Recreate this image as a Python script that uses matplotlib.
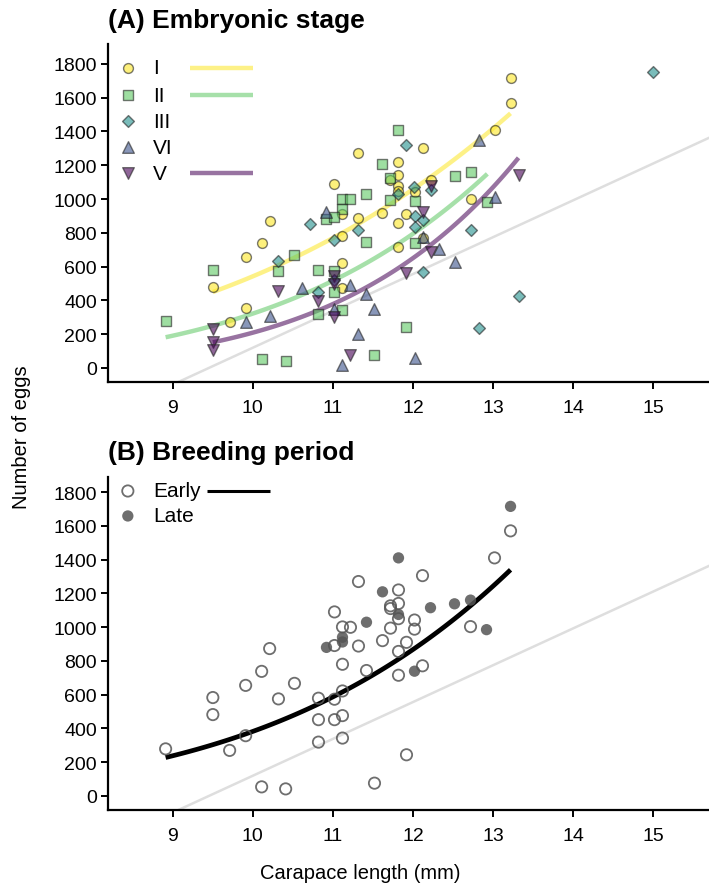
import matplotlib
matplotlib.use("Agg")
import matplotlib.pyplot as plt
import numpy as np

plt.rcParams['font.family'] = ['Liberation Sans', 'DejaVu Sans']

# ---- data: carapace length (mm), number of eggs, breeding period
stage_I_x = [13.22, 13.22, 13.02, 12.12, 11.32, 11.82, 11.82, 11.72, 12.22, 11.82, 11.82, 12.02, 11.02, 11.62, 11.32,
             11.12, 11.92, 11.82, 10.21, 11.12, 11.82, 12.72, 12.12, 10.11, 9.91, 11.12, 11.12, 9.50, 9.91, 9.71]
stage_I_y = [1715, 1570, 1410, 1305, 1270, 1220, 1140, 1110, 1115, 1075, 1050, 1042, 1090, 920, 888,
             912, 910, 856, 873, 780, 715, 1003, 771, 738, 655, 622, 476, 482, 357, 270]
stage_I_p = ['L', 'E', 'E', 'E', 'E', 'E', 'E', 'E', 'L', 'L', 'E', 'E', 'E', 'E', 'E',
             'L', 'E', 'E', 'E', 'E', 'E', 'E', 'E', 'E', 'E', 'E', 'E', 'E', 'E', 'E']

stage_II_x = [11.82, 11.62, 11.72, 12.52, 12.72, 12.92, 11.42, 11.12, 11.22, 11.72, 12.02, 11.12, 10.92, 11.02, 11.42,
              12.02, 10.82, 11.02, 10.52, 10.32, 9.50, 8.91, 11.02, 10.82, 11.12, 11.92, 11.52, 10.11, 10.41]
stage_II_y = [1410, 1209, 1126, 1138, 1160, 985, 1029, 1001, 999, 994, 988, 940, 880, 891, 743,
              739, 579, 573, 667, 575, 583, 279, 452, 319, 343, 244, 76, 54, 42]
stage_II_p = ['L', 'L', 'E', 'L', 'L', 'L', 'L', 'E', 'E', 'E', 'E', 'L', 'L', 'E', 'E',
              'L', 'E', 'E', 'E', 'E', 'E', 'E', 'E', 'E', 'E', 'E', 'E', 'E', 'E']

stage_III_x = [15.0, 11.92, 12.22, 12.01, 11.82, 12.02, 12.12, 12.02, 10.71, 11.32, 11.02, 10.32, 10.82, 12.72,
               12.12, 13.33, 12.83, 11.02]
stage_III_y = [1750, 1323, 1053, 1069, 1032, 900, 876, 833, 850, 819, 760, 635, 452, 818, 570, 424, 239, 518]
stage_III_p = ['', '', '', '', '', '', '', '', '', '', '', '', 'E', '', '', '', '', '']

stage_VI_x = [12.83, 13.02, 10.91, 11.22, 10.62, 11.02, 11.42, 11.52, 9.91, 10.21, 12.33, 12.52, 11.32, 11.12,
              12.02, 12.12]
stage_VI_y = [1350, 1010, 921, 489, 471, 352, 438, 349, 274, 305, 703, 625, 201, 18, 57, 775]
stage_VI_p = [''] * 16

stage_V_x = [12.22, 12.12, 13.32, 12.22, 11.92, 11.02, 11.02, 11.02, 10.82, 10.32, 9.50, 9.50, 9.50, 11.22]
stage_V_y = [1077, 924, 1143, 689, 565, 546, 497, 300, 396, 458, 231, 152, 107, 77]
stage_V_p = [''] * 14

stage_labels = ['I', 'II', 'III', 'VI', 'V']
stage_colors = ['#FDE725', '#5DC863', '#21908C', '#3B528B', '#440154']
stage_markers = ['o', 's', 'D', '^', 'v']

# power-law fits  log(eggs) = a + b*log(length), with fitted x range
fit_I = (-2.131, 3.66, 9.50, 13.22)
fit_II = (-5.623, 4.95, 8.91, 12.93)
fit_V = (-8.979, 6.22, 9.50, 13.32)
fit_all = (-4.392, 4.49, 8.91, 13.22)

# grey reference line  eggs = slope*length + intercept
ref_slope = 218.0
ref_intercept = -2060.0

xs_all = [stage_I_x, stage_II_x, stage_III_x, stage_VI_x, stage_V_x]
ys_all = [stage_I_y, stage_II_y, stage_III_y, stage_VI_y, stage_V_y]
ps_all = [stage_I_p, stage_II_p, stage_III_p, stage_VI_p, stage_V_p]
fits = [fit_I, fit_II, None, None, fit_V]

W, H = 709, 887
fig = plt.figure(figsize=(W / 100, H / 100), dpi=100)
ax1 = fig.add_axes([108 / W, 1 - 383 / H, 601 / W, 338 / H])
ax2 = fig.add_axes([108 / W, 1 - 811 / H, 601 / W, 333 / H])


def style_axes(ax, ylim):
    ax.set_xlim(8.19, 15.7)
    ax.set_ylim(*ylim)
    for s in ['top', 'right']:
        ax.spines[s].set_visible(False)
    for s in ['left', 'bottom']:
        ax.spines[s].set_linewidth(1.6)
    ax.set_xticks(range(9, 16))
    ax.set_yticks(range(0, 1801, 200))
    ax.tick_params(width=1.4, length=5, labelsize=14)
    ax.tick_params(axis='x', pad=7)
    ax.tick_params(axis='y', pad=3)


def power_curve(fit):
    a, b, x0, x1 = fit
    x = np.linspace(x0, x1, 100)
    return x, np.exp(a + b * np.log(x))


def ref_line(ax):
    x = np.array([8.0, 16.0])
    ax.plot(x, ref_slope * x + ref_intercept, color='#dedede', lw=1.8, zorder=1)


# ---- (A) embryonic stage
style_axes(ax1, (-83, 1918))
ref_line(ax1)
for xs, ys, col, mk, fit in zip(xs_all, ys_all, stage_colors, stage_markers, fits):
    if fit is not None:
        cx, cy = power_curve(fit)
        ax1.plot(cx, cy, color=col, lw=3.2, alpha=0.55, solid_capstyle='butt', zorder=2)
sizes = {'o': 50, 's': 42, 'D': 36, '^': 70, 'v': 70}
for xs, ys, col, mk in zip(xs_all, ys_all, stage_colors, stage_markers):
    ax1.scatter(xs, ys, s=sizes[mk], marker=mk, facecolor=col, edgecolor='#222222', linewidth=1.0,
                alpha=0.6, zorder=3)

# legend for (A), drawn in axes coordinates
tr = ax1.transAxes
row_y = [0.929, 0.849, 0.772, 0.695, 0.618]
for lab, col, mk, fit, yy in zip(stage_labels, stage_colors, stage_markers, fits, row_y):
    ax1.scatter([0.033], [yy], s=sizes[mk], marker=mk, facecolor=col, edgecolor='#222222', linewidth=1.0,
                alpha=0.6, transform=tr, clip_on=False, zorder=4)
    ax1.text(0.075, yy, lab, transform=tr, fontsize=15, va='center', ha='left')
    if fit is not None:
        ax1.plot([0.136, 0.241], [yy, yy], color=col, lw=3.2, alpha=0.55, transform=tr,
                 solid_capstyle='butt')

# ---- (B) breeding period
style_axes(ax2, (-83, 1889))
ref_line(ax2)
cx, cy = power_curve(fit_all)
ax2.plot(cx, cy, color='black', lw=3.4, zorder=2, solid_capstyle='butt')
early_x, early_y, late_x, late_y = [], [], [], []
for xs, ys, ps in zip(xs_all, ys_all, ps_all):
    for x, y, p in zip(xs, ys, ps):
        if p == 'E':
            early_x.append(x)
            early_y.append(y)
        elif p == 'L':
            late_x.append(x)
            late_y.append(y)
ax2.scatter(early_x, early_y, s=66, facecolor='none', edgecolor='#555555', linewidth=1.3, alpha=0.85, zorder=3)
ax2.scatter(late_x, late_y, s=66, facecolor='#555555', edgecolor='none', alpha=0.85, zorder=3)

tr2 = ax2.transAxes
ax2.scatter([0.033], [0.958], s=66, facecolor='none', edgecolor='#555555', linewidth=1.3, alpha=0.85,
            transform=tr2, clip_on=False)
ax2.text(0.075, 0.958, 'Early', transform=tr2, fontsize=15, va='center', ha='left')
ax2.plot([0.165, 0.270], [0.958, 0.958], color='black', lw=2.2, transform=tr2, solid_capstyle='butt')
ax2.scatter([0.033], [0.883], s=66, facecolor='#555555', edgecolor='none', alpha=0.85,
            transform=tr2, clip_on=False)
ax2.text(0.075, 0.883, 'Late', transform=tr2, fontsize=15, va='center', ha='left')

# ---- titles and axis labels
fig.text(108 / W, 1 - 21 / H, '(A) Embryonic stage', fontsize=19, fontweight='bold', va='center', ha='left')
fig.text(108 / W, 1 - 453 / H, '(B) Breeding period', fontsize=19, fontweight='bold', va='center', ha='left')
fig.text(22 / W, 1 - 437 / H, 'Number of eggs', fontsize=14.5, rotation=90, va='center', ha='center')
fig.text(360 / W, 1 - 874 / H, 'Carapace length (mm)', fontsize=14.5, va='center', ha='center')

fig.savefig('out.png', dpi=100)
